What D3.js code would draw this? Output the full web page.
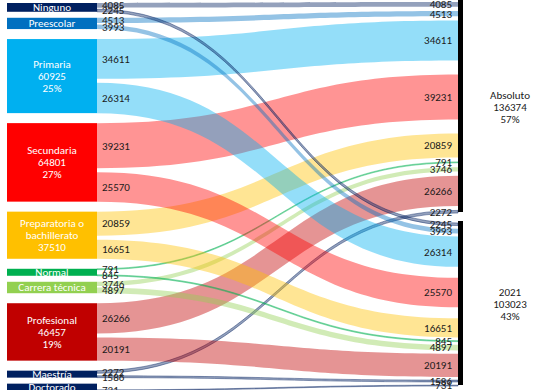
<!DOCTYPE html>
<html>
<head>
<meta charset="utf-8">
<script src="https://cdn.jsdelivr.net/npm/d3@7"></script>
<style>
  body { margin: 0; background: #fff; }
  svg { display: block; }
  text { font-family: Carlito, Lato, "Liberation Sans", sans-serif; font-size: 11px; }
</style>
</head>
<body>
<div id="chart"></div>
<script>
// education levels (left nodes)
const categories = ["Ninguno", "Preescolar", "Primaria", "Secundaria", "Preparatoria o bachillerato",
  "Normal", "Carrera técnica", "Profesional", "Maestría", "Doctorado"];
const nameLines = [["Ninguno"], ["Preescolar"], ["Primaria"], ["Secundaria"], ["Preparatoria o", "bachillerato"],
  ["Normal"], ["Carrera técnica"], ["Profesional"], ["Maestría"], ["Doctorado"]];
const colors = ["#002060", "#0070C0", "#00B0F0", "#FF0000", "#FFC000",
  "#00B050", "#92D050", "#C00000", "#002060", "#002060"];

// flows to the two groups on the right
const targets = ["Absoluto", "2021"];
const toAbsoluto = [4085, 4513, 34611, 39231, 20859, 791, 3746, 26266, 2272, 0];
const to2021 = [2245, 3993, 26314, 25570, 16651, 845, 4897, 20191, 1586, 731];

const width = 560, height = 390;
const svg = d3.select("#chart").append("svg")
  .attr("width", width).attr("height", height);

// value -> band thickness in px
const thick = d3.scaleLinear().domain([0, 100000]).range([0, 115]);
// left node edge and right bar
const x = d3.scalePoint().domain(["node", "bar"]).range([97, 458]);
const nodeLeft = 7, barW = 5;

const grand = d3.sum(toAbsoluto) + d3.sum(to2021);
const pct = d3.format(".0%");

// 1. left nodes, stacked from the top
let cursor = 3, prevBig = false;
const nodes = categories.map((c, i) => {
  const a = toAbsoluto[i], b = to2021[i];
  const th = thick(a + b);
  const isBig = th > 20;
  const h = isBig ? th + 4 : Math.max(7, th + 1.5);
  if (i > 0) cursor += (isBig || prevBig) ? 10 : 6;
  const n = { i, name: c, a, b, total: a + b, y0: cursor, y1: cursor + h, big: isBig };
  cursor += h;
  prevBig = isBig;
  return n;
});

// 2. right groups, bands stacked with gaps
function stackGroup(values, start, end, bigGap) {
  const items = values.map((v, i) => ({ i, v, t: thick(v) })).filter(d => d.v > 0);
  let nBig = 0;
  for (let j = 1; j < items.length; j++) if (items[j].t > 15 && items[j - 1].t > 15) nBig++;
  const nSmall = items.length - 1 - nBig;
  const small = (end - start - d3.sum(items, d => d.t) - nBig * bigGap) / nSmall;
  let y = start;
  items.forEach((d, j) => {
    if (j > 0) y += (d.t > 15 && items[j - 1].t > 15) ? bigGap : small;
    d.y0 = y; d.y1 = y + d.t;
    y += d.t;
  });
  return items;
}
const groups = [
  { name: targets[0], values: toAbsoluto, start: 2, end: 213, gap: 14 },
  { name: targets[1], values: to2021, start: 223, end: 386, gap: 11 }
];
groups.forEach(g => {
  g.total = d3.sum(g.values);
  g.items = stackGroup(g.values, g.start, g.end, g.gap);
});

// links
const links = [];
groups.forEach((g, gi) => {
  g.items.forEach(d => {
    const n = nodes[d.i];
    const t = thick(d.v);
    const sy0 = gi === 0 ? n.y0 : n.y1 - t;
    links.push({ i: d.i, v: d.v, sy0, sy1: sy0 + t, ty0: d.y0, ty1: d.y1, t });
  });
});

function bandPath(l) {
  const sx = x("node"), tx = x("bar");
  const c = (tx - sx) * 0.5;
  const p = d3.path();
  p.moveTo(sx, l.sy0);
  p.bezierCurveTo(sx + c, l.sy0, tx - c, l.ty0, tx, l.ty0);
  p.lineTo(tx, l.ty1);
  p.bezierCurveTo(tx - c, l.ty1, sx + c, l.sy1, sx, l.sy1);
  p.closePath();
  return p.toString();
}

svg.append("g").selectAll("path")
  .data(links)
  .join("path")
  .attr("d", bandPath)
  .attr("fill", d => colors[d.i])
  .attr("fill-opacity", 0.42)
  .attr("stroke", d => d.t < 3 ? colors[d.i] : "none")
  .attr("stroke-opacity", 0.42)
  .attr("stroke-width", 1);

// left boxes
const nodeG = svg.append("g").selectAll("g")
  .data(nodes)
  .join("g");

nodeG.append("rect")
  .attr("x", nodeLeft)
  .attr("y", d => d.y0)
  .attr("width", x("node") - nodeLeft)
  .attr("height", d => d.y1 - d.y0)
  .attr("fill", d => colors[d.i]);

nodeG.each(function (d) {
  let lines = nameLines[d.i].slice();
  if (d.big) {
    lines.push(String(d.total));
    if (lines.length < 3) lines.push(pct(d.total / grand));
  }
  const cy = (d.y0 + d.y1) / 2;
  const lh = 12;
  d3.select(this).selectAll("text.nm")
    .data(lines)
    .join("text")
    .attr("class", "nm")
    .attr("x", (nodeLeft + x("node")) / 2)
    .attr("y", (t, j) => cy + (j - (lines.length - 1) / 2) * lh)
    .attr("dy", "0.35em")
    .attr("text-anchor", "middle")
    .attr("fill", "#fff")
    .text(t => t);
});

// value labels at both ends of each band
svg.append("g").selectAll("text")
  .data(links)
  .join("text")
  .attr("x", x("node") + 5)
  .attr("y", d => (d.sy0 + d.sy1) / 2)
  .attr("dy", "0.35em")
  .attr("fill", "#1a1a1a")
  .text(d => d.v);

svg.append("g").selectAll("text")
  .data(links)
  .join("text")
  .attr("x", x("bar") - 6)
  .attr("y", d => (d.ty0 + d.ty1) / 2)
  .attr("dy", "0.35em")
  .attr("text-anchor", "end")
  .attr("fill", "#1a1a1a")
  .text(d => d.v);

// right bars and group labels
const barG = svg.append("g").selectAll("g")
  .data(groups)
  .join("g");

barG.append("rect")
  .attr("x", x("bar"))
  .attr("y", d => d.start - 2)
  .attr("width", barW)
  .attr("height", d => d.end - d.start + 1)
  .attr("fill", "#000");

barG.each(function (g) {
  const lines = [g.name, String(g.total), pct(g.total / grand)];
  const cy = (g.start + g.end) / 2;
  d3.select(this).selectAll("text")
    .data(lines)
    .join("text")
    .attr("x", 510)
    .attr("y", (t, j) => cy + (j - 1) * 12)
    .attr("dy", "0.35em")
    .attr("text-anchor", "middle")
    .attr("fill", "#1a1a1a")
    .text(t => t);
});
</script>
</body>
</html>
